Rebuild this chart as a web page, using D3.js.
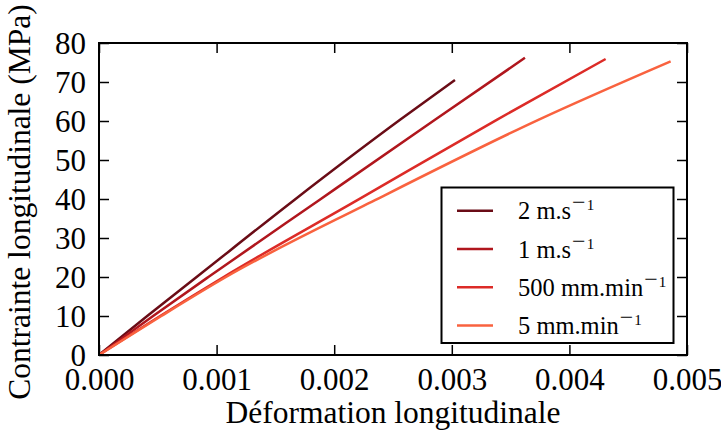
<!DOCTYPE html>
<html>
<head>
<meta charset="utf-8">
<script src="https://cdn.jsdelivr.net/npm/d3@7"></script>
<style>
html,body{margin:0;padding:0;background:#fff;}
svg{display:block;}
</style>
</head>
<body>
<svg id="chart" width="721" height="435"></svg>
<script>
// ---- data ----
const seriesNames = ["2 m.s", "1 m.s", "500 mm.min", "5 mm.min"];
const strain2ms = [0, 0.00041, 0.00083, 0.001658, 0.00256, 0.003027];
const stress2ms = [0, 10, 20, 39.7, 60.3, 70.5];
const strain1ms = [0, 0.00046, 0.00093, 0.001871, 0.002857, 0.003622];
const stress1ms = [0, 10, 20, 39.7, 60.3, 76.2];
const strain500 = [0, 0.00052, 0.00106, 0.002197, 0.003382, 0.004308];
const stress500 = [0, 10, 20, 39.7, 60.3, 75.9];
const strain5 = [0, 0.00053, 0.00108, 0.002347, 0.003736, 0.004861];
const stress5 = [0, 10, 20, 39.7, 60.3, 75.3];
const xTicks = [0, 0.001, 0.002, 0.003, 0.004, 0.005];
const yTicks = [0, 10, 20, 30, 40, 50, 60, 70, 80];
const colors = ["#6a0c16", "#b0161d", "#dc2b27", "#f9623f"];

const series = [
  {name: seriesNames[0], x: strain2ms, y: stress2ms},
  {name: seriesNames[1], x: strain1ms, y: stress1ms},
  {name: seriesNames[2], x: strain500, y: stress500},
  {name: seriesNames[3], x: strain5, y: stress5}
];

const FONT = "Liberation Serif";
const svg = d3.select("#chart");
const L = 99, R = 687, T = 43, B = 355;
const x = d3.scaleLinear().domain([0, 0.005]).range([L, R]);
const y = d3.scaleLinear().domain([0, 80]).range([B, T]);

const tickLen = 10;
const fmtX = d3.format(".3f");
const gx = svg.append("g").attr("transform", `translate(0,${B})`)
  .call(d3.axisBottom(x).tickValues(xTicks).tickFormat(fmtX).tickSizeInner(-tickLen).tickSizeOuter(0).tickPadding(12));
const gxt = svg.append("g").attr("transform", `translate(0,${T})`)
  .call(d3.axisTop(x).tickValues(xTicks).tickFormat("").tickSizeInner(-tickLen).tickSizeOuter(0));
const gy = svg.append("g").attr("transform", `translate(${L},0)`)
  .call(d3.axisLeft(y).tickValues(yTicks).tickFormat(d3.format("d")).tickSizeInner(-tickLen).tickSizeOuter(0).tickPadding(13));
const gyr = svg.append("g").attr("transform", `translate(${R},0)`)
  .call(d3.axisRight(y).tickValues(yTicks).tickFormat("").tickSizeInner(-tickLen).tickSizeOuter(0));
[gx, gxt, gy, gyr].forEach(g => {
  g.attr("font-family", FONT).attr("font-size", 31);
  g.select(".domain").remove();
  g.selectAll(".tick line").attr("stroke", "#000").attr("stroke-width", 1.5);
  g.selectAll(".tick text").attr("font-family", FONT).attr("font-size", 31).attr("fill", "#000");
});
gx.selectAll(".tick text").attr("dy", null).attr("y", 35);
gy.selectAll(".tick text").attr("dy", "0.34em");

// lines
const line = d3.line().x(d => x(d[0])).y(d => y(d[1])).curve(d3.curveMonotoneX);
series.forEach((s, i) => {
  svg.append("path")
    .datum(s.x.map((v, k) => [v, s.y[k]]))
    .attr("d", line)
    .attr("fill", "none")
    .attr("stroke", colors[i])
    .attr("stroke-width", 2.5);
});

// frame
svg.append("rect").attr("x", L).attr("y", T).attr("width", R - L).attr("height", B - T)
  .attr("fill", "none").attr("stroke", "#000").attr("stroke-width", 2);

// axis labels
svg.append("text").attr("x", (L + R) / 2).attr("y", 423).attr("text-anchor", "middle")
  .attr("font-family", FONT).attr("font-size", 31.5).attr("fill", "#000").text("Déformation longitudinale");
svg.append("text").attr("transform", `translate(30,${(T + B) / 2 + 3}) rotate(-90)`).attr("text-anchor", "middle")
  .attr("font-family", FONT).attr("font-size", 31.5).attr("fill", "#000").text("Contrainte longitudinale (MPa)");

// legend
const lg = svg.append("g").attr("font-family", FONT);
lg.append("rect").attr("x", 441.5).attr("y", 187.5).attr("width", 232).attr("height", 155.5)
  .attr("fill", "#fff").attr("stroke", "#000").attr("stroke-width", 2);
series.forEach((s, i) => {
  const ly = 210.7 + i * 38.3;
  lg.append("line").attr("x1", 457).attr("x2", 493).attr("y1", ly).attr("y2", ly)
    .attr("stroke", colors[i]).attr("stroke-width", 2.5);
  const t = lg.append("text").attr("x", 518).attr("y", ly + 8.5)
    .attr("font-family", FONT).attr("font-size", 24.5).attr("fill", "#000");
  t.append("tspan").attr("font-family", FONT).text(s.name);
  t.append("tspan").attr("font-family", FONT).attr("dy", -9).attr("dx", 1).attr("font-size", 24).text("\u2212");
  t.append("tspan").attr("font-family", FONT).attr("dx", 1).attr("font-size", 15).text("1");
});
</script>
</body>
</html>
